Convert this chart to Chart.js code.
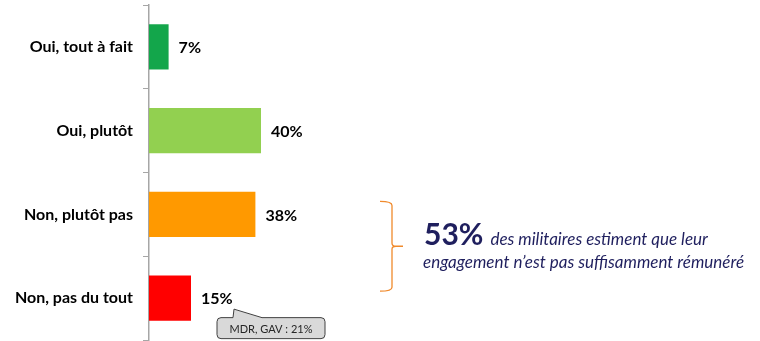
<!DOCTYPE html>
<html>
<head>
<meta charset="utf-8">
<script src="https://cdn.jsdelivr.net/npm/chart.js@4/dist/chart.umd.min.js"></script>
<style>
  html, body { margin: 0; padding: 0; background: #ffffff; }
  #wrap { width: 760px; height: 341px; position: relative; }
</style>
</head>
<body>
<div id="wrap"><canvas id="c"></canvas></div>
<script>
// Réponses à la question sur la rémunération de l'engagement
const categories = ['Oui, tout à fait', 'Oui, plutôt', 'Non, plutôt pas', 'Non, pas du tout'];
const values = [7, 40, 38, 15];
const valueLabels = ['7%', '40%', '38%', '15%'];
const barColors = ['#13A64B', '#92D050', '#FF9900', '#FF0000'];
const summaryValue = '53%';
const summaryLine1 = 'des militaires estiment que leur';
const summaryLine2 = 'engagement n\u2019est pas suffisamment rémunéré';
const calloutText = 'MDR, GAV : 21%';

const NAVY = '#1F1F5E';
const FONT = 'Lato, "Open Sans", sans-serif';

// Étiquettes de valeur à droite des barres
const valueLabelPlugin = {
  id: 'valueLabels',
  afterDatasetsDraw(chart) {
    const ctx = chart.ctx;
    const meta = chart.getDatasetMeta(0);
    ctx.save();
    ctx.font = 'bold 16px ' + FONT;
    ctx.fillStyle = '#000000';
    ctx.textBaseline = 'middle';
    ctx.textAlign = 'left';
    meta.data.forEach((bar, i) => {
      ctx.fillText(valueLabels[i], bar.x + 10, bar.y + 1);
    });
    ctx.restore();
  }
};

// Accolade, texte de synthèse et bulle de commentaire
const notesPlugin = {
  id: 'notes',
  afterDraw(chart) {
    const ctx = chart.ctx;
    const y = chart.scales.y;
    const meta = chart.getDatasetMeta(0);

    // Accolade orange couvrant les deux réponses négatives
    const top = y.getPixelForValue(2) - 13;
    const bot = y.getPixelForValue(3) - 7;
    const mid = (top + bot) / 2;
    const bx = 392;
    ctx.save();
    ctx.strokeStyle = '#F08A2C';
    ctx.lineWidth = 1.3;
    ctx.beginPath();
    ctx.moveTo(380, top);
    ctx.quadraticCurveTo(bx, top, bx, top + 4);
    ctx.lineTo(bx, mid - 3);
    ctx.quadraticCurveTo(bx, mid, bx + 4, mid);
    ctx.lineTo(403, mid);
    ctx.moveTo(bx + 4, mid);
    ctx.quadraticCurveTo(bx, mid, bx, mid + 3);
    ctx.lineTo(bx, bot - 4);
    ctx.quadraticCurveTo(bx, bot, 380, bot);
    ctx.stroke();

    // Texte de synthèse
    ctx.fillStyle = NAVY;
    ctx.textBaseline = 'alphabetic';
    ctx.textAlign = 'left';
    ctx.font = 'bold 30px ' + FONT;
    ctx.fillText(summaryValue, 424, mid - 1);
    const w = ctx.measureText(summaryValue).width;
    ctx.font = 'italic 17px ' + FONT;
    ctx.fillText(summaryLine1, 424 + w + 7, mid - 1);
    ctx.fillText(summaryLine2, 423, mid + 22);

    // Bulle grise sous la barre « Non, pas du tout »
    const bar = meta.data[3];
    const lx = bar.x + 10;
    const rx = lx + 16, ry = bar.y + 19.5, rw = 108, rh = 21, r = 4;
    const apexX = lx + 33, apexY = bar.y + 11;
    ctx.beginPath();
    ctx.moveTo(rx + r, ry);
    ctx.lineTo(apexX - 1, ry);
    ctx.lineTo(apexX, apexY);
    ctx.lineTo(rx + 45, ry);
    ctx.lineTo(rx + rw - r, ry);
    ctx.quadraticCurveTo(rx + rw, ry, rx + rw, ry + r);
    ctx.lineTo(rx + rw, ry + rh - r);
    ctx.quadraticCurveTo(rx + rw, ry + rh, rx + rw - r, ry + rh);
    ctx.lineTo(rx + r, ry + rh);
    ctx.quadraticCurveTo(rx, ry + rh, rx, ry + rh - r);
    ctx.lineTo(rx, ry + r);
    ctx.quadraticCurveTo(rx, ry, rx + r, ry);
    ctx.closePath();
    ctx.fillStyle = '#D9D9D9';
    ctx.fill();
    ctx.strokeStyle = '#404040';
    ctx.lineWidth = 1;
    ctx.stroke();
    ctx.fillStyle = '#262626';
    ctx.font = '11px ' + FONT;
    ctx.textAlign = 'center';
    ctx.textBaseline = 'middle';
    ctx.fillText(calloutText, rx + rw / 2, ry + rh / 2 + 1);
    ctx.restore();
  }
};

new Chart(document.getElementById('c'), {
  type: 'bar',
  data: {
    labels: categories,
    datasets: [{
      data: values,
      backgroundColor: barColors,
      borderWidth: 0,
      barPercentage: 0.9,
      categoryPercentage: 0.6
    }]
  },
  options: {
    indexAxis: 'y',
    responsive: true,
    maintainAspectRatio: false,
    animation: false,
    layout: { padding: { top: 5, bottom: 1, left: 0, right: 331 } },
    plugins: {
      legend: { display: false },
      tooltip: { enabled: false }
    },
    scales: {
      x: {
        display: false,
        min: 0,
        max: 100
      },
      y: {
        offset: true,
        afterFit(scale) {
          scale.width = 149;
          scale.paddingTop = 0;
          scale.paddingBottom = 0;
        },
        grid: {
          offset: true,
          drawOnChartArea: false,
          drawTicks: true,
          tickLength: 6,
          color: '#A6A6A6'
        },
        border: { display: true, color: '#A6A6A6', width: 1.5 },
        ticks: {
          color: '#000000',
          padding: 10,
          font: { family: FONT, size: 16, weight: 'bold' }
        }
      }
    }
  },
  plugins: [valueLabelPlugin, notesPlugin]
});
</script>
</body>
</html>
